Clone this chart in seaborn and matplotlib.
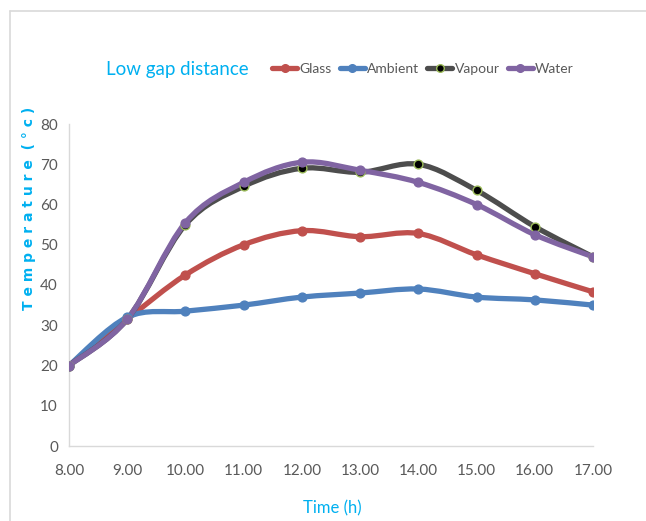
import numpy as np
import pandas as pd
import matplotlib
matplotlib.use("Agg")
import matplotlib.pyplot as plt
from matplotlib.path import Path
from matplotlib.patches import PathPatch
from matplotlib.lines import Line2D
import seaborn as sns

hours = [8, 9, 10, 11, 12, 13, 14, 15, 16, 17]
tick_labels = ["8.00", "9.00", "10.00", "11.00", "12.00", "13.00", "14.00", "15.00", "16.00", "17.00"]
glass = [20, 31.5, 42.5, 50, 53.5, 52, 52.8, 47.5, 42.8, 38.3]
ambient = [20, 32, 33.5, 35, 37, 38, 39, 37, 36.3, 35]
vapour = [20, 31.5, 55, 64.5, 69, 68, 70, 63.5, 54.5, 47]
water = [20, 31.5, 55.5, 65.5, 70.5, 68.5, 65.5, 60, 52.5, 47]

series = ["Glass", "Ambient", "Vapour", "Water"]
values = [glass, ambient, vapour, water]
line_colors = {"Glass": "#C0504D", "Ambient": "#4F81BD", "Vapour": "#4D4D4D", "Water": "#8064A2"}
marker_face = {"Glass": "#C0504D", "Ambient": "#4F81BD", "Vapour": "#000000", "Water": "#8064A2"}
marker_edge = {"Glass": "#C0504D", "Ambient": "#4F81BD", "Vapour": "#9BBB59", "Water": "#8064A2"}

df = pd.DataFrame({
    "Time": np.tile(hours, len(series)),
    "Temperature": np.concatenate(values),
    "Series": np.repeat(series, len(hours)),
})

sns.set_style("white")
plt.rcParams["font.family"] = ["Lato", "DejaVu Sans"]

fig = plt.figure(figsize=(6.46, 5.21), dpi=100)
W, H = 646, 521
ax = fig.add_axes([69 / W, 1 - 446 / H, (593 - 69) / W, (446 - 124) / H])


def smooth_path(xs, ys):
    # Catmull-Rom style cubic Bezier through every point
    pts = np.column_stack([xs, ys]).astype(float)
    n = len(pts)
    verts = [pts[0]]
    codes = [Path.MOVETO]
    for i in range(n - 1):
        p0 = pts[i - 1] if i > 0 else pts[i]
        p1 = pts[i]
        p2 = pts[i + 1]
        p3 = pts[i + 2] if i + 2 < n else pts[i + 1]
        c1 = p1 + (p2 - p0) / 6.0
        c2 = p2 - (p3 - p1) / 6.0
        verts += [c1, c2, p2]
        codes += [Path.CURVE4] * 3
    return Path(verts, codes)


for s in series:
    sub = df[df["Series"] == s]
    patch = PathPatch(smooth_path(sub["Time"].values, sub["Temperature"].values),
                      facecolor="none", edgecolor=line_colors[s], lw=3.8,
                      capstyle="round", joinstyle="round", zorder=2)
    ax.add_patch(patch)
    sns.scatterplot(data=sub, x="Time", y="Temperature", ax=ax,
                    color=marker_face[s], edgecolor=marker_edge[s], linewidth=1.0,
                    s=40, marker="o", zorder=3, legend=False)

ax.set_xlim(8, 17)
ax.set_ylim(0, 80)
ax.set_xticks(hours)
ax.set_xticklabels(tick_labels)
ax.set_yticks(range(0, 81, 10))
ax.tick_params(axis="both", length=0, labelsize=11, labelcolor="#595959", pad=8)
ax.tick_params(axis="x", pad=13)
for side in ["top", "right"]:
    ax.spines[side].set_visible(False)
for side in ["left", "bottom"]:
    ax.spines[side].set_color("#D9D9D9")
    ax.spines[side].set_linewidth(1.0)
ax.set_xlabel("")
ax.set_ylabel("")

cyan = "#00B0F0"
fig.text(177 / W, 1 - 70 / H, "Low gap distance", color=cyan, fontsize=13.5,
         ha="center", va="center")
fig.text(332 / W, 1 - 508 / H, "Time (h)", color=cyan, fontsize=12,
         ha="center", va="center")
fig.text(29 / W, 1 - 208 / H, "T e m p e r a t u r e  ( ° c )", color=cyan, fontsize=10,
         rotation=90, ha="center", va="center", fontweight="bold",
         family=["DejaVu Sans"])

handles = [Line2D([0], [0], color=line_colors[s], lw=3.8, marker="o", markersize=5.5,
                  markerfacecolor=marker_face[s], markeredgecolor=marker_edge[s])
           for s in series]
fig.legend(handles, series, loc="center", bbox_to_anchor=(423 / W, 1 - 69 / H), ncol=4,
           frameon=False, fontsize=10, labelcolor="#595959", handlelength=1.8,
           handletextpad=0.15, columnspacing=0.6)

# light frame of the chart area
fig.add_artist(Line2D([10 / W, 1], [1 - 11 / H, 1 - 11 / H], color="#D9D9D9", lw=1.2,
                      transform=fig.transFigure))
fig.add_artist(Line2D([10 / W, 10 / W], [0, 1 - 11 / H], color="#D9D9D9", lw=1.2,
                      transform=fig.transFigure))

fig.savefig("out.png", dpi=100)
